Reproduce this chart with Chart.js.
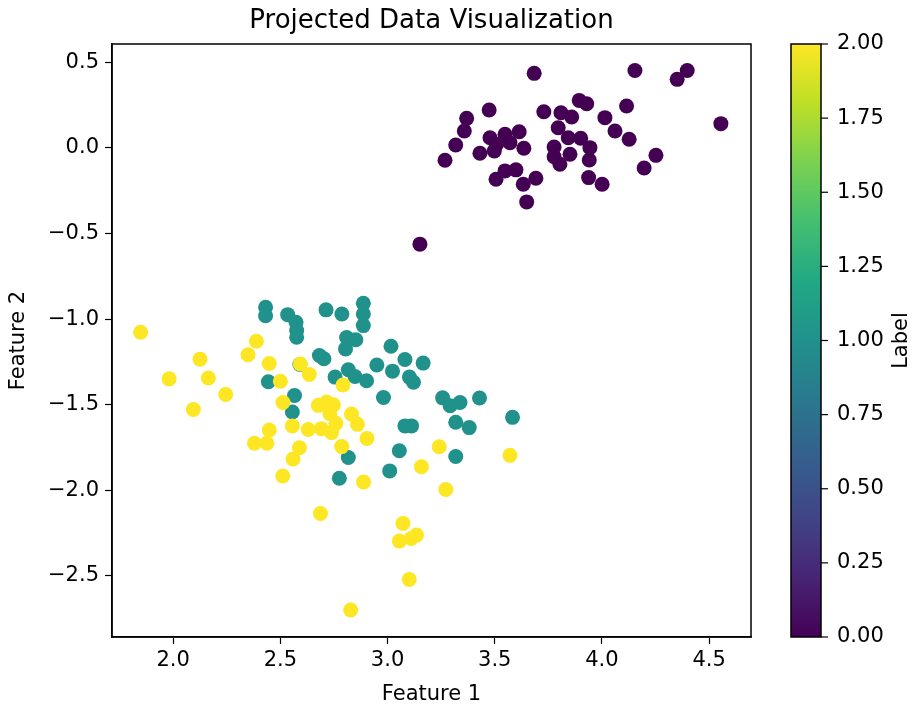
<!DOCTYPE html>
<html>
<head>
<meta charset="utf-8">
<script src="https://cdn.jsdelivr.net/npm/chart.js@4.4.1/dist/chart.umd.min.js"></script>
<style>
  body { margin: 0; background: #fff; }
  #wrap { width: 915px; height: 707px; }
</style>
</head>
<body>
<div id="wrap"><canvas id="chart" width="915" height="707"></canvas></div>
<script>
// points per label
const label0X = [3.684, 4.154, 4.398, 4.351, 3.894, 3.929, 4.115, 3.474, 3.369, 3.729, 3.809, 3.859, 4.014, 4.555, 3.358, 3.796, 4.061, 3.478, 3.548, 3.614, 3.571, 3.509, 3.843, 3.901, 4.127, 3.318, 3.498, 3.431, 3.636, 3.777, 3.944, 3.268, 3.777, 3.851, 3.941, 3.804, 4.252, 4.197, 3.506, 3.548, 3.599, 3.633, 3.692, 3.938, 4.001, 3.649, 3.151];
const label0Y = [0.436, 0.453, 0.453, 0.401, 0.278, 0.258, 0.245, 0.222, 0.173, 0.212, 0.206, 0.181, 0.177, 0.142, 0.099, 0.118, 0.099, 0.060, 0.080, 0.095, 0.031, 0.022, 0.060, 0.057, 0.051, 0.017, -0.017, -0.031, -0.002, 0.006, 0.002, -0.072, -0.051, -0.037, -0.070, -0.095, -0.043, -0.117, -0.183, -0.134, -0.128, -0.212, -0.177, -0.173, -0.212, -0.315, -0.562];

const label1X = [2.431, 2.431, 2.534, 2.573, 2.576, 2.576, 2.713, 2.787, 2.887, 2.887, 2.887, 2.809, 2.852, 2.804, 3.016, 2.682, 2.703, 3.081, 3.166, 2.950, 2.817, 3.023, 2.755, 2.848, 2.902, 3.102, 3.121, 2.444, 2.591, 2.566, 2.981, 3.257, 3.338, 3.429, 3.292, 3.583, 2.556, 3.081, 3.112, 3.318, 3.381, 3.055, 2.817, 3.318, 3.010, 2.775];
const label1Y = [-0.931, -0.980, -0.974, -1.019, -1.067, -1.106, -0.946, -0.970, -0.908, -0.970, -1.038, -1.108, -1.121, -1.174, -1.159, -1.213, -1.232, -1.236, -1.257, -1.268, -1.296, -1.304, -1.339, -1.335, -1.360, -1.339, -1.369, -1.366, -1.265, -1.446, -1.458, -1.460, -1.487, -1.461, -1.506, -1.574, -1.543, -1.624, -1.624, -1.603, -1.634, -1.769, -1.809, -1.803, -1.887, -1.930];

const label2X = [1.848, 2.388, 2.349, 2.125, 2.448, 2.593, 1.981, 2.164, 2.500, 2.245, 2.512, 2.094, 2.556, 2.448, 2.379, 2.437, 2.589, 2.559, 2.635, 2.792, 2.677, 2.716, 2.747, 2.832, 2.731, 2.759, 2.860, 2.904, 2.630, 2.691, 2.739, 2.786, 3.241, 3.571, 3.158, 2.511, 2.888, 3.272, 2.687, 3.072, 3.055, 3.110, 3.135, 3.101, 2.828];
const label2Y = [-1.077, -1.129, -1.208, -1.234, -1.259, -1.262, -1.349, -1.344, -1.363, -1.440, -1.487, -1.528, -1.624, -1.648, -1.725, -1.725, -1.752, -1.817, -1.324, -1.385, -1.504, -1.485, -1.501, -1.555, -1.553, -1.609, -1.615, -1.697, -1.645, -1.640, -1.663, -1.745, -1.746, -1.796, -1.863, -1.917, -1.952, -1.996, -2.136, -2.194, -2.297, -2.282, -2.262, -2.521, -2.700];

// tick labels
const xTicks = [2.0, 2.5, 3.0, 3.5, 4.0, 4.5];
const yTicks = [-2.5, -2.0, -1.5, -1.0, -0.5, 0.0, 0.5];
const cbTicks = [0.00, 0.25, 0.50, 0.75, 1.00, 1.25, 1.50, 1.75, 2.00];

// viridis
const viridis = ['#440154', '#482475', '#414487', '#355f8d', '#2a788e', '#21918c', '#22a884', '#44bf70', '#7ad151', '#bddf26', '#fde725'];
const FONT = 'DejaVu Sans';

function toPoints(xs, ys) {
    return xs.map((x, i) => ({ x: x, y: ys[i] }));
}
function minus(s) {
    return s.replace('-', '\u2212');
}

// box around the axes, the colorbar, its label and the title
const extras = {
    id: 'extras',
    afterDraw(chart) {
        const ctx = chart.ctx;
        const a = chart.chartArea;
        const cb = chart.scales.cb;
        ctx.save();
        ctx.strokeStyle = '#000';
        ctx.lineWidth = 1.5;
        ctx.strokeRect(a.left, a.top, a.right - a.left, a.bottom - a.top);

        // colorbar
        const left = 791, w = 30;
        const top = cb.getPixelForValue(2), bottom = cb.getPixelForValue(0);
        const g = ctx.createLinearGradient(0, bottom, 0, top);
        viridis.forEach((c, i) => g.addColorStop(i / (viridis.length - 1), c));
        ctx.fillStyle = g;
        ctx.fillRect(left, top, w, bottom - top);
        ctx.strokeRect(left, top, w, bottom - top);
        ctx.lineWidth = 1.2;
        cbTicks.forEach(v => {
            const y = cb.getPixelForValue(v);
            ctx.beginPath();
            ctx.moveTo(left + w, y);
            ctx.lineTo(left + w + 7, y);
            ctx.stroke();
        });

        // colorbar label, reading upwards
        ctx.fillStyle = '#000';
        ctx.font = '21px "' + FONT + '"';
        ctx.textAlign = 'center';
        ctx.textBaseline = 'middle';
        ctx.save();
        ctx.translate(902, (top + bottom) / 2);
        ctx.rotate(-Math.PI / 2);
        ctx.fillText('Label', 0, 0);
        ctx.restore();

        // title, centred over the axes
        ctx.font = '26px "' + FONT + '"';
        ctx.textBaseline = 'alphabetic';
        ctx.fillText('Projected Data Visualization', (a.left + a.right) / 2, 28);
        ctx.restore();
    }
};

const datasets = [
    { label: '2', data: toPoints(label2X, label2Y), backgroundColor: '#fde725', order: 0 },
    { label: '1', data: toPoints(label1X, label1Y), backgroundColor: '#21918c', order: 1 },
    { label: '0', data: toPoints(label0X, label0Y), backgroundColor: '#440154', order: 2 }
];
datasets.forEach(d => {
    d.pointRadius = 7.5;
    d.pointHoverRadius = 7.5;
    d.borderWidth = 0;
    d.pointBorderWidth = 0;
});

const tickFont = { family: FONT, size: 21 };

new Chart(document.getElementById('chart'), {
    type: 'scatter',
    data: { datasets: datasets },
    options: {
        responsive: false,
        animation: false,
        layout: { padding: { top: 44, left: 0, right: 0, bottom: 0 } },
        plugins: { legend: { display: false }, tooltip: { enabled: false }, title: { display: false } },
        scales: {
            x: {
                type: 'linear',
                min: 1.7145,
                max: 4.6955,
                afterBuildTicks: s => { s.ticks = xTicks.map(v => ({ value: v })); },
                afterFit: s => { s.height = 70; },
                ticks: { color: '#000', font: tickFont, padding: 4, maxRotation: 0, callback: v => v.toFixed(1) },
                grid: { drawOnChartArea: false, drawTicks: true, tickLength: 7, tickColor: '#000', tickWidth: 1.2 },
                border: { display: true, color: '#000', width: 1.5 },
                title: { display: true, text: 'Feature 1', color: '#000', font: tickFont, padding: { top: 2, bottom: 0 } }
            },
            y: {
                type: 'linear',
                position: 'left',
                min: -2.8575,
                max: 0.6075,
                afterBuildTicks: s => { s.ticks = yTicks.map(v => ({ value: v })); },
                afterFit: s => { s.width = 112; },
                ticks: { color: '#000', font: tickFont, padding: 6, callback: v => minus(v.toFixed(1)) },
                grid: { drawOnChartArea: false, drawTicks: true, tickLength: 7, tickColor: '#000', tickWidth: 1.2 },
                border: { display: true, color: '#000', width: 1.5 },
                title: { display: true, text: 'Feature 2', color: '#000', font: tickFont, padding: { top: 6, bottom: 0 } }
            },
            cb: {
                // colorbar scale; its tick marks are hidden, the visible ones are drawn next to the bar
                type: 'linear',
                position: 'right',
                min: 0,
                max: 2,
                afterBuildTicks: s => { s.ticks = cbTicks.map(v => ({ value: v })); },
                afterFit: s => { s.width = 164; },
                ticks: { color: '#000', font: tickFont, padding: 7, callback: v => v.toFixed(2) },
                grid: { display: true, drawOnChartArea: false, drawTicks: true, tickLength: 79, tickColor: 'rgba(0,0,0,0)' },
                border: { display: false },
                title: { display: false }
            }
        }
    },
    plugins: [extras]
});
</script>
</body>
</html>
